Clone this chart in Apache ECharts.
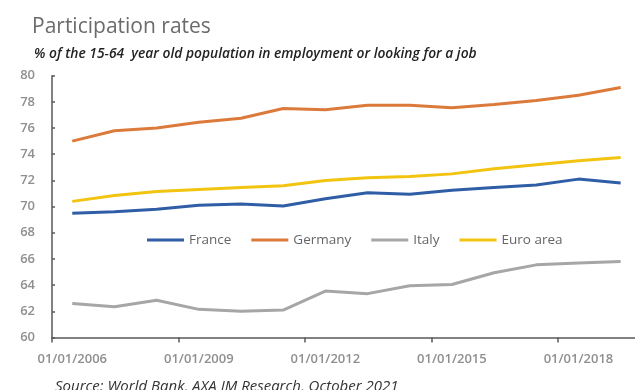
<!DOCTYPE html>
<html>
<head>
<meta charset="utf-8">
<script src="https://cdn.jsdelivr.net/npm/echarts@6/dist/echarts.min.js"></script>
<style>
html,body{margin:0;padding:0;background:#fff;}
#chart{width:635px;height:390px;}
</style>
</head>
<body>
<div id="chart"></div>
<script>
// ---- data ----
const years = [2006, 2007, 2008, 2009, 2010, 2011, 2012, 2013, 2014, 2015, 2016, 2017, 2018, 2019];
const france  = [69.5, 69.6, 69.8, 70.1, 70.2, 70.05, 70.6, 71.05, 70.95, 71.25, 71.45, 71.65, 72.1, 71.8];
const germany = [75.0, 75.8, 76.0, 76.45, 76.75, 77.5, 77.4, 77.75, 77.75, 77.55, 77.8, 78.1, 78.5, 79.1];
const italy   = [62.6, 62.35, 62.85, 62.15, 62.0, 62.1, 63.55, 63.35, 63.95, 64.05, 64.95, 65.55, 65.7, 65.8];
const euro    = [70.4, 70.85, 71.15, 71.3, 71.45, 71.6, 72.0, 72.2, 72.3, 72.5, 72.9, 73.2, 73.5, 73.75];
const seriesNames = ['France', 'Germany', 'Italy', 'Euro area'];
const tickYears = [2006, 2009, 2012, 2015, 2018];
const yTicks = [60, 62, 64, 66, 68, 70, 72, 74, 76, 78, 80];

const baseYear = years[0];
const toX = y => y - baseYear + 0.48; // annual value plotted at the centre of its year
const pairs = arr => arr.map((v, i) => [toX(years[i]), v]);
const tickPos = tickYears.map(y => y - baseYear);   // year boundaries
const labelPos = tickYears.map(y => toX(y));         // labels centred on the year

const colors = ['#2f5ea6', '#dc7a3b', '#a6a6a6', '#f2c30f'];
const FONT = "'Open Sans', 'Noto Sans', sans-serif";

const chart = echarts.init(document.getElementById('chart'), null, {renderer: 'canvas'});
chart.setOption({
  animation: false,
  backgroundColor: '#ffffff',
  title: [
    {text: 'Participation rates', left: 27, top: 12,
     textStyle: {fontFamily: FONT, fontSize: 21, fontWeight: 'normal', color: '#6b6b6b'}},
    {text: '% of the 15-64  year old population in employment or looking for a job', left: 29, top: 42,
     textStyle: {fontFamily: FONT, fontSize: 13.8, fontStyle: 'italic', fontWeight: 600, color: '#222'}},
    {text: 'Source: World Bank, AXA IM Research, October 2021', left: 50, top: 374,
     textStyle: {fontFamily: FONT, fontSize: 15, fontStyle: 'italic', fontWeight: 'normal', color: '#333'}}
  ],
  legend: {
    data: seriesNames,
    left: 142, top: 228,
    icon: 'rect', itemWidth: 37, itemHeight: 3, itemGap: 20,
    textStyle: {fontFamily: FONT, fontSize: 13.5, color: '#666'}
  },
  grid: {left: 52, right: 0, top: 75.7, bottom: 52.5, containLabel: false},
  xAxis: {
    type: 'value', min: 0, max: 13.82, interval: 3,
    splitLine: {show: false},
    axisLine: {lineStyle: {color: '#595959', width: 1.5}},
    axisTick: {show: true, inside: false, length: 5, customValues: tickPos, lineStyle: {color: '#595959', width: 1.5}},
    axisLabel: {customValues: labelPos, margin: 15, fontFamily: FONT, fontSize: 13, fontWeight: 600, color: '#8f8f8f',
      formatter: v => '01/01/' + (baseYear + Math.floor(v + 1e-6))}
  },
  yAxis: {
    type: 'value', min: yTicks[0], max: yTicks[yTicks.length - 1], interval: 2,
    splitLine: {show: false},
    axisLine: {show: true, lineStyle: {color: '#595959', width: 1.5}},
    axisTick: {show: true, inside: true, length: 3, lineStyle: {color: '#595959', width: 1.5}},
    axisLabel: {margin: 17, fontFamily: FONT, fontSize: 13, fontWeight: 600, color: '#8f8f8f'}
  },
  series: [france, germany, italy, euro].map((arr, i) => ({
    name: seriesNames[i], type: 'line', data: pairs(arr),
    showSymbol: false, symbol: 'none',
    lineStyle: {width: 3, color: colors[i]}, itemStyle: {color: colors[i]}
  }))
});
</script>
</body>
</html>
